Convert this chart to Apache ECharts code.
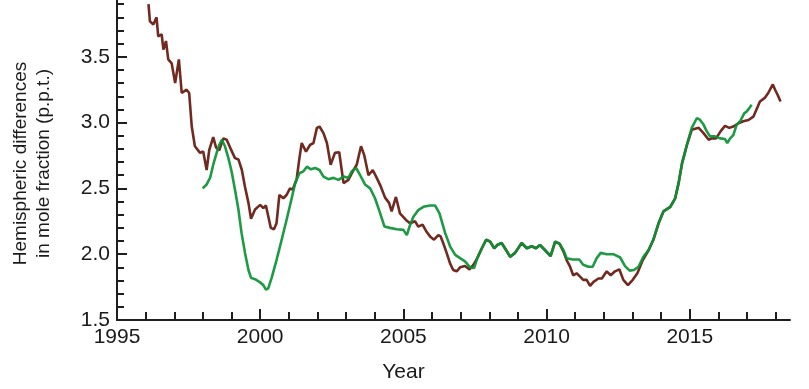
<!DOCTYPE html>
<html>
<head>
<meta charset="utf-8">
<script src="https://cdn.jsdelivr.net/npm/echarts@6/dist/echarts.min.js"></script>
<style>
html,body{margin:0;padding:0;background:#fff;}
#chart{width:809px;height:389px;}
</style>
</head>
<body>
<div id="chart"></div>
<script>
// Tick labels
var xMajorTicks = [1995, 2000, 2005, 2010, 2015];
var xMinorTicks = [1996, 1997, 1998, 1999, 2001, 2002, 2003, 2004, 2006, 2007, 2008, 2009, 2011, 2012, 2013, 2014, 2016, 2017, 2018];

// Brown series
var brownYears = [1996.10,1996.15,1996.27,1996.38,1996.44,1996.56,1996.62,1996.71,1996.79,1996.91,1997.03,1997.16,1997.26,1997.43,1997.52,1997.61,1997.72,1997.90,1998.01,1998.13,1998.22,1998.36,1998.46,1998.57,1998.71,1998.83,1998.95,1999.12,1999.24,1999.36,1999.47,1999.59,1999.68,1999.82,2000.00,2000.11,2000.20,2000.28,2000.37,2000.48,2000.57,2000.67,2000.81,2000.92,2001.04,2001.13,2001.27,2001.37,2001.45,2001.60,2001.74,2001.86,2001.98,2002.07,2002.21,2002.33,2002.46,2002.61,2002.76,2002.91,2003.08,2003.26,2003.37,2003.52,2003.63,2003.78,2003.93,2004.07,2004.21,2004.36,2004.50,2004.59,2004.74,2004.88,2005.09,2005.23,2005.41,2005.52,2005.67,2005.81,2005.95,2006.07,2006.22,2006.30,2006.39,2006.51,2006.63,2006.74,2006.86,2006.98,2007.15,2007.31,2007.45,2007.58,2007.74,2007.89,2008.03,2008.17,2008.28,2008.43,2008.59,2008.73,2008.90,2009.13,2009.31,2009.48,2009.63,2009.77,2009.95,2010.14,2010.30,2010.45,2010.59,2010.70,2010.82,2010.93,2011.05,2011.17,2011.28,2011.40,2011.52,2011.64,2011.81,2011.93,2012.10,2012.24,2012.39,2012.54,2012.68,2012.84,2013.01,2013.17,2013.36,2013.56,2013.73,2013.91,2014.08,2014.32,2014.49,2014.61,2014.73,2014.90,2015.07,2015.13,2015.31,2015.48,2015.66,2015.77,2015.92,2016.08,2016.23,2016.38,2016.52,2016.70,2016.87,2017.05,2017.22,2017.33,2017.45,2017.63,2017.74,2017.90,2017.98,2018.07,2018.17];
var brownValues = [3.90,3.77,3.745,3.80,3.656,3.67,3.555,3.62,3.48,3.45,3.30,3.48,3.225,3.25,3.225,2.97,2.82,2.77,2.78,2.64,2.79,2.89,2.81,2.79,2.88,2.87,2.81,2.73,2.72,2.64,2.51,2.39,2.27,2.34,2.375,2.35,2.37,2.29,2.20,2.19,2.235,2.45,2.425,2.45,2.50,2.49,2.565,2.73,2.845,2.78,2.83,2.845,2.96,2.97,2.92,2.845,2.68,2.77,2.775,2.54,2.565,2.64,2.68,2.82,2.755,2.60,2.64,2.58,2.515,2.43,2.39,2.325,2.435,2.31,2.26,2.235,2.25,2.21,2.225,2.17,2.13,2.11,2.145,2.135,2.085,2.01,1.93,1.88,1.87,1.90,1.91,1.885,1.92,1.97,2.045,2.11,2.095,2.045,2.07,2.085,2.03,1.98,2.01,2.085,2.045,2.06,2.045,2.07,2.03,1.985,2.095,2.08,2.02,1.955,1.905,1.84,1.855,1.83,1.805,1.805,1.76,1.79,1.815,1.815,1.87,1.84,1.87,1.885,1.805,1.765,1.805,1.855,1.955,2.03,2.11,2.235,2.325,2.36,2.425,2.54,2.69,2.83,2.945,2.96,2.96,2.92,2.87,2.88,2.88,2.935,2.975,2.96,2.97,2.995,3.01,3.02,3.045,3.10,3.16,3.19,3.225,3.29,3.25,3.21,3.16];

// Green series
var greenYears = [1997.99,1998.13,1998.25,1998.36,1998.48,1998.57,1998.66,1998.77,1998.89,1999.00,1999.12,1999.24,1999.35,1999.47,1999.59,1999.68,1999.82,1999.97,2000.11,2000.20,2000.28,2000.40,2000.57,2000.75,2000.92,2001.10,2001.22,2001.37,2001.51,2001.63,2001.77,2001.92,2002.07,2002.21,2002.38,2002.56,2002.73,2002.91,2003.08,2003.20,2003.35,2003.49,2003.66,2003.84,2004.01,2004.19,2004.34,2004.53,2004.77,2005.00,2005.12,2005.23,2005.35,2005.52,2005.70,2005.93,2006.11,2006.26,2006.46,2006.63,2006.81,2006.98,2007.15,2007.33,2007.47,2007.58,2007.74,2007.89,2008.03,2008.17,2008.28,2008.43,2008.59,2008.73,2008.90,2009.13,2009.31,2009.48,2009.63,2009.77,2009.95,2010.14,2010.30,2010.45,2010.59,2010.70,2010.91,2011.14,2011.28,2011.46,2011.61,2011.75,2011.89,2012.10,2012.33,2012.57,2012.74,2012.90,2013.05,2013.21,2013.38,2013.56,2013.73,2013.91,2014.08,2014.32,2014.49,2014.61,2014.73,2014.90,2015.07,2015.25,2015.36,2015.48,2015.59,2015.71,2015.88,2016.06,2016.23,2016.31,2016.41,2016.52,2016.64,2016.76,2016.90,2016.99,2017.08,2017.16];
var greenValues = [2.50,2.53,2.58,2.68,2.77,2.83,2.87,2.82,2.73,2.63,2.49,2.34,2.16,2.01,1.88,1.82,1.81,1.79,1.765,1.73,1.74,1.82,1.955,2.11,2.26,2.425,2.54,2.615,2.63,2.665,2.645,2.655,2.64,2.59,2.57,2.58,2.565,2.59,2.58,2.63,2.655,2.60,2.53,2.50,2.425,2.31,2.21,2.20,2.19,2.185,2.145,2.22,2.285,2.335,2.36,2.37,2.37,2.31,2.16,2.06,1.995,1.97,1.945,1.90,1.895,1.97,2.045,2.11,2.095,2.045,2.07,2.085,2.03,1.98,2.01,2.085,2.045,2.06,2.045,2.07,2.03,1.985,2.095,2.08,2.03,1.97,1.96,1.96,1.92,1.905,1.905,1.97,2.01,2.00,2.00,1.975,1.91,1.875,1.88,1.905,1.98,2.03,2.11,2.235,2.325,2.36,2.425,2.54,2.69,2.83,2.96,3.035,3.02,2.985,2.935,2.895,2.895,2.88,2.875,2.845,2.88,2.905,2.985,3.01,3.07,3.085,3.11,3.135];

function pairs(xs, ys) {
  var out = [];
  for (var i = 0; i < xs.length; i++) out.push([xs[i], ys[i]]);
  return out;
}

var FONT = '"Liberation Sans", Arial, Helvetica, sans-serif';
var TXT = '#1a1a1a';
var AX = '#1e1e1e';

var chart = echarts.init(document.getElementById('chart'));
chart.setOption({
  animation: false,
  backgroundColor: '#fff',
  grid: {left: 117, right: 19, top: -9, bottom: 69, containLabel: false, outerBoundsMode: 'none'},
  xAxis: [{
    type: 'value', min: 1995, max: 2018.5, interval: 5,
    position: 'bottom',
    name: 'Year', nameLocation: 'middle', nameGap: 42,
    nameTextStyle: {fontFamily: FONT, fontSize: 21, color: TXT, padding: [0, 100, 0, 0]},
    axisLine: {show: true, onZero: false, lineStyle: {color: AX, width: 2}},
    axisTick: {show: true, inside: true, length: 11, lineStyle: {color: AX, width: 2}, customValues: xMajorTicks},
    axisLabel: {fontFamily: FONT, fontSize: 21, color: TXT, margin: 7, customValues: xMajorTicks,
      formatter: function (v) { return String(Math.round(v)); }},
    splitLine: {show: false}
  }, {
    type: 'value', min: 1995, max: 2018.5, interval: 5,
    position: 'bottom', offset: 0,
    axisLine: {show: false, onZero: false},
    axisTick: {show: true, inside: true, length: 8, lineStyle: {color: AX, width: 2}, customValues: xMinorTicks},
    axisLabel: {show: false},
    splitLine: {show: false}
  }],
  yAxis: {
    type: 'value', min: 1.5, max: 4.0, interval: 0.5,
    name: 'Hemispheric differences\nin mole fraction (p.p.t.)',
    nameLocation: 'middle', nameGap: 62,
    nameTextStyle: {fontFamily: FONT, fontSize: 19, color: TXT, lineHeight: 23, padding: [0, 16, 0, 0]},
    axisLine: {show: true, onZero: false, lineStyle: {color: AX, width: 2}},
    axisTick: {show: true, inside: true, length: 10, lineStyle: {color: AX, width: 2}},
    minorTick: {show: true, splitNumber: 5, length: 7, lineStyle: {color: AX, width: 2}},
    axisLabel: {fontFamily: FONT, fontSize: 21, color: TXT, margin: 7,
      formatter: function (v) { return v.toFixed(1); }},
    splitLine: {show: false}
  },
  series: [{
    name: 'brown', type: 'line', xAxisIndex: 0,
    data: pairs(brownYears, brownValues),
    showSymbol: false,
    lineStyle: {color: '#702a20', width: 2.6}
  }, {
    name: 'green', type: 'line', xAxisIndex: 0,
    data: pairs(greenYears, greenValues),
    showSymbol: false,
    lineStyle: {color: '#0b9135', width: 2.6, opacity: 0.92}
  }]
});
</script>
</body>
</html>
